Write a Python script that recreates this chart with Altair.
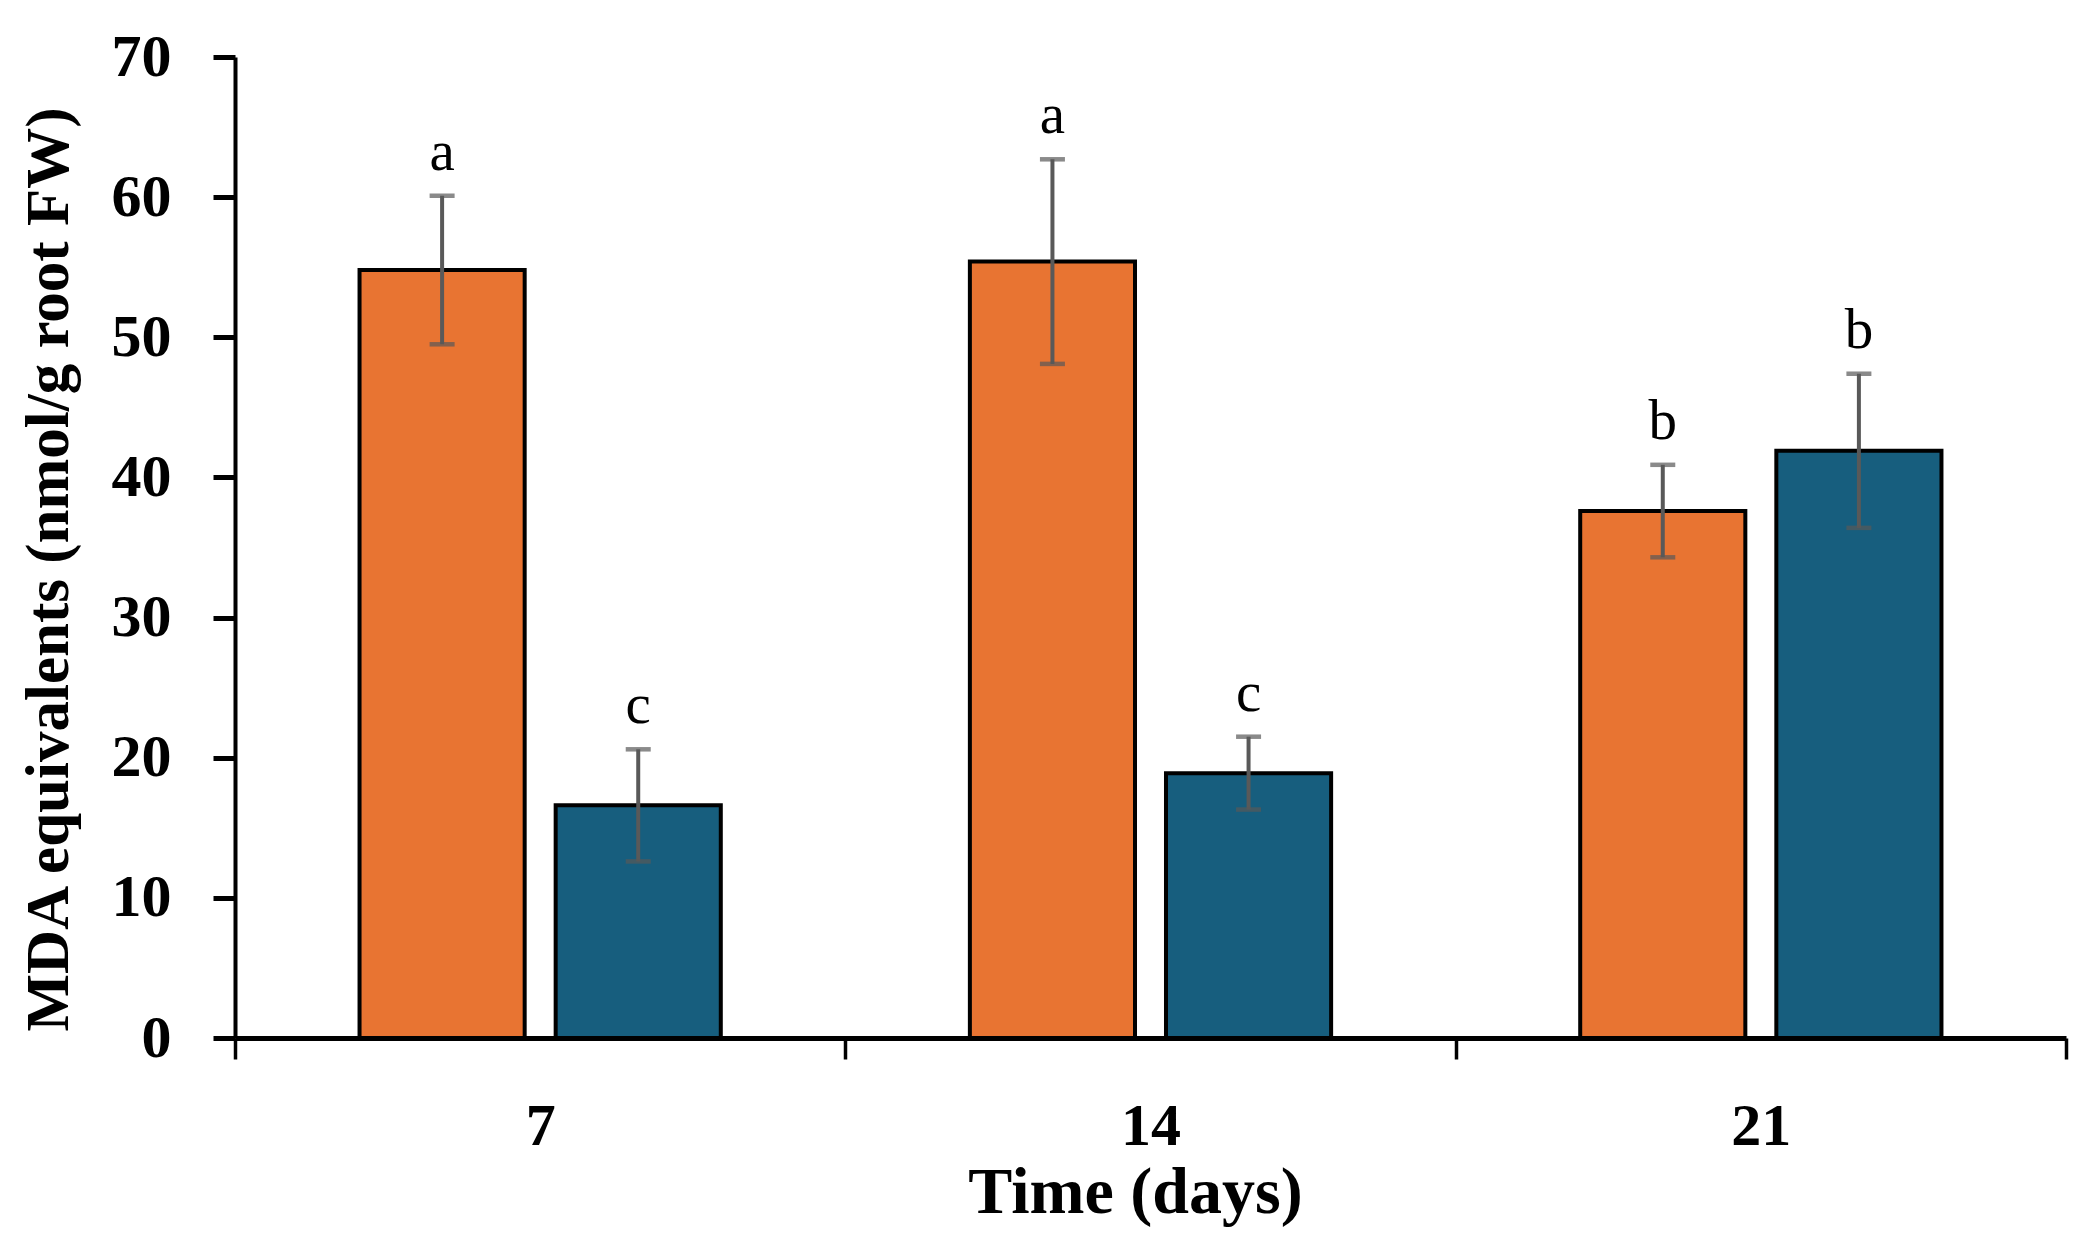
import altair as alt
import pandas as pd

times = ["7", "14", "21"]
groups = ["A", "B"]
orange_mean = [54.8, 55.4, 37.6]
orange_sd = [5.3, 7.3, 3.3]
blue_mean = [16.6, 18.9, 41.9]
blue_sd = [4.0, 2.6, 5.5]
orange_letters = ["a", "a", "b"]
blue_letters = ["c", "c", "b"]
colors = ["#E87432", "#175E7E"]

rows = []
for i, t in enumerate(times):
    rows.append({"time": t, "group": "A", "mean": orange_mean[i], "sd": orange_sd[i], "letter": orange_letters[i]})
    rows.append({"time": t, "group": "B", "mean": blue_mean[i], "sd": blue_sd[i], "letter": blue_letters[i]})
df = pd.DataFrame(rows)
df["lo"] = df["mean"] - df["sd"]
df["hi"] = df["mean"] + df["sd"]

FONT = "Liberation Serif"

x_enc = alt.X("time:N", sort=times,
              scale=alt.Scale(paddingInner=0, paddingOuter=0),
              axis=alt.Axis(title="Time (days)", labelAngle=0, tickBand="extent",
                            tickSize=21, tickWidth=3.5, domainWidth=5, labelPadding=38,
                            titleFontSize=66,
                            titleX=900, titleY=174, titleBaseline="alphabetic",
                            titleAnchor="start", titleAlign="center"))
xo_enc = alt.XOffset("group:N", sort=groups, scale=alt.Scale(paddingInner=0.158, paddingOuter=0.635))

base = alt.Chart(df)

bars = base.mark_bar(stroke="black", strokeWidth=4).encode(
    x=x_enc,
    xOffset=xo_enc,
    y=alt.Y("mean:Q", scale=alt.Scale(domain=[0, 70], nice=False),
            axis=alt.Axis(title="MDA equivalents (nmol/g root FW)", values=list(range(0, 71, 10)),
                          tickSize=22, tickWidth=5, domainWidth=4, labelPadding=42,
                          titleFontSize=61,
                          titleX=-168, titleY=512, titleBaseline="alphabetic",
                          titleAngle=-90, titleAlign="center", titleAnchor="start")),
    color=alt.Color("group:N", scale=alt.Scale(domain=groups, range=colors), legend=None),
)

err = base.mark_rule(color="#595959", strokeWidth=4).encode(
    x=alt.X("time:N", sort=times), xOffset=alt.XOffset("group:N", sort=groups),
    y="lo:Q", y2="hi:Q")
cap_hi = base.mark_tick(color="#595959", size=25, thickness=4.5, orient="horizontal").encode(
    x=alt.X("time:N", sort=times), xOffset=alt.XOffset("group:N", sort=groups), y="hi:Q")
cap_lo = base.mark_tick(color="#595959", size=25, thickness=4.5, orient="horizontal").encode(
    x=alt.X("time:N", sort=times), xOffset=alt.XOffset("group:N", sort=groups), y="lo:Q")
letters = base.mark_text(font=FONT, fontSize=57, baseline="alphabetic", dy=-26, color="black").encode(
    x=alt.X("time:N", sort=times), xOffset=alt.XOffset("group:N", sort=groups), y="hi:Q", text="letter:N")

chart = alt.layer(bars, err, cap_hi, cap_lo, letters).properties(
    width=1831, height=981,
    autosize=alt.AutoSizeParams(type="none"),
    padding={"left": 227, "top": 49, "right": 14, "bottom": 190},
).configure_view(stroke=None).configure_axis(
    labelFont=FONT, titleFont=FONT, labelFontSize=60, titleFontSize=62,
    labelFontWeight="bold", titleFontWeight="bold", labelColor="black", titleColor="black",
    domainColor="black", tickColor="black", grid=False,
)

chart.save("out.html", embed_options={"renderer": "svg", "actions": False})
